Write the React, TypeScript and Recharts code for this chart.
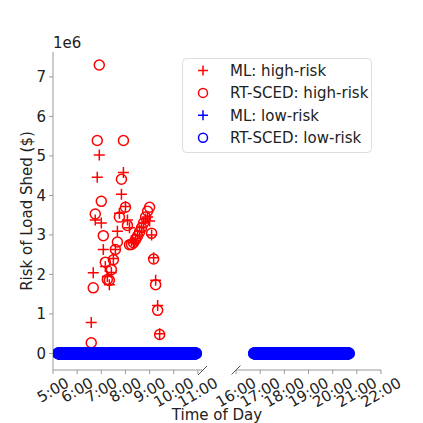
import React from 'react';
import { ScatterChart, Scatter, XAxis, YAxis } from 'recharts';

// ---------- data ----------
const morningTicks = [5, 6, 7, 8, 9, 10, 11];
const eveningTicks = [16, 17, 18, 19, 20, 21, 22];
const riskTicks = [0, 1e6, 2e6, 3e6, 4e6, 5e6, 6e6, 7e6];

const highRiskTimes = [
  '6:35', '6:40', '6:45', '6:50', '6:55', '7:00', '7:05', '7:10', '7:15', '7:20',
  '7:25', '7:30', '7:35', '7:40', '7:45', '7:50', '7:55', '8:00', '8:05', '8:10',
  '8:15', '8:20', '8:25', '8:30', '8:35', '8:40', '8:45', '8:50', '8:55', '9:00',
  '9:05', '9:10', '9:15', '9:20', '9:25',
];
// millions of $
const rtscedHighRisk = [
  0.27, 1.66, 3.53, 5.39, 7.30, 3.85, 2.98, 2.31, 1.87, 1.85,
  2.12, 2.37, 2.63, 2.82, 3.45, 4.41, 5.39, 3.70, 3.24, 2.75,
  2.76, 2.80, 2.88, 2.97, 3.07, 3.18, 3.30, 3.45, 3.60, 3.70,
  3.04, 2.39, 1.74, 1.09, 0.48,
];
const mlHighRisk = [
  0.78, 2.04, 3.38, 4.46, 5.02, 3.30, 2.63, 2.20, 1.95, 1.74,
  2.05, 2.40, 2.63, 3.09, 3.55, 4.03, 4.58, 3.72, 3.38, 3.18,
  2.85, 2.80, 2.90, 3.00, 3.10, 3.20, 3.30, 3.40, 3.45, 3.35,
  3.00, 2.42, 1.85, 1.21, 0.50,
];

// low-risk periods (many days overlaid, one point per minute), risk read as 0
const lowRiskMorning = { start: '5:13', end: '10:55' };
const lowRiskEvening = { start: '16:45', end: '20:40' };
const lowRiskValue = 0;

// ---------- helpers ----------
const toHours = (s: string) => {
  const [h, m] = s.split(':').map(Number);
  return h + m / 60;
};
const minutesBetween = (start: string, end: string) => {
  const out: number[] = [];
  const a = Math.round(toHours(start) * 60);
  const b = Math.round(toHours(end) * 60);
  for (let m = a; m <= b; m += 1) out.push(m / 60);
  return out;
};

const mlHighData = highRiskTimes.map((t, i) => ({ t: toHours(t), v: mlHighRisk[i] * 1e6 }));
const rtHighData = highRiskTimes.map((t, i) => ({ t: toHours(t), v: rtscedHighRisk[i] * 1e6 }));
const lowMorningData = minutesBetween(lowRiskMorning.start, lowRiskMorning.end).map((t) => ({ t, v: lowRiskValue }));
const lowEveningData = minutesBetween(lowRiskEvening.start, lowRiskEvening.end).map((t) => ({ t, v: lowRiskValue }));

const RED = '#ff0000';
const BLUE = '#0000ff';
const AXIS = '#999999';
const TEXT = '#222222';
const FONT = "'DejaVu Sans', sans-serif";
const Y_DOMAIN: [number, number] = [-0.42e6, 7.63e6];

const plusShape = (color: string) => (props: any) => {
  const { cx, cy } = props;
  if (cx == null || cy == null) return <g />;
  return (
    <path
      d={`M${cx - 5.5},${cy}H${cx + 5.5}M${cx},${cy - 5.5}V${cy + 5.5}`}
      stroke={color}
      strokeWidth={1.5}
      fill="none"
    />
  );
};
const ringShape = (color: string, r = 5) => (props: any) => {
  const { cx, cy } = props;
  if (cx == null || cy == null) return <g />;
  return <circle cx={cx} cy={cy} r={r} stroke={color} strokeWidth={1.5} fill="none" />;
};

const hourLabel = (h: number) => `${h}:00`;

const RotTick = (props: any) => {
  const { x, y, payload } = props;
  const label = hourLabel(payload.value);
  const digits = label.length - 1;
  const L = digits * 9.54 + 5.05;
  const cy = y + (L * 0.5 + 9.5) / 2;
  return (
    <text
      x={x}
      y={cy}
      textAnchor="middle"
      dominantBaseline="central"
      transform={`rotate(-30, ${x}, ${cy})`}
      fontSize={15}
      fill={TEXT}
    >
      {label}
    </text>
  );
};

const legendItems = [
  { label: 'ML: high-risk', color: RED, kind: 'plus' },
  { label: 'RT-SCED: high-risk', color: RED, kind: 'ring' },
  { label: 'ML: low-risk', color: BLUE, kind: 'plus' },
  { label: 'RT-SCED: low-risk', color: BLUE, kind: 'ring' },
];

export default function App() {
  return (
    <div
      style={{
        position: 'absolute',
        left: 0,
        top: 0,
        width: 423,
        height: 423,
        background: '#fff',
        fontFamily: FONT,
        overflow: 'hidden',
      }}
    >
      {/* left panel: morning */}
      <div style={{ position: 'absolute', left: 0, top: 0 }}>
        <ScatterChart width={423} height={423} margin={{ top: 52, right: 221, bottom: 13, left: 13 }}>
          <XAxis
            type="number"
            dataKey="t"
            domain={[5, 11.17]}
            ticks={morningTicks}
            interval={0}
            allowDataOverflow
            height={40}
            tickSize={4}
            tickMargin={3}
            axisLine={{ stroke: AXIS }}
            tickLine={{ stroke: AXIS }}
            tick={<RotTick />}
          />
          <YAxis
            type="number"
            dataKey="v"
            domain={Y_DOMAIN}
            ticks={riskTicks}
            interval={0}
            allowDataOverflow
            width={40}
            tickSize={4}
            tickMargin={3}
            axisLine={{ stroke: AXIS }}
            tickLine={{ stroke: AXIS }}
            tick={{ fontSize: 15, fill: TEXT }}
            tickFormatter={(v: number) => String(Math.round(v / 1e6))}
          />
          <Scatter data={mlHighData} shape={plusShape(RED)} isAnimationActive={false} />
          <Scatter data={rtHighData} shape={ringShape(RED)} isAnimationActive={false} />
          <Scatter data={lowMorningData} shape={plusShape(BLUE)} isAnimationActive={false} />
          <Scatter data={lowMorningData} shape={ringShape(BLUE, 5.5)} isAnimationActive={false} />
        </ScatterChart>
      </div>

      {/* right panel: evening */}
      <div style={{ position: 'absolute', left: 0, top: 0 }}>
        <ScatterChart width={423} height={423} margin={{ top: 52, right: 42, bottom: 13, left: 236 }}>
          <XAxis
            type="number"
            dataKey="t"
            domain={[16, 22]}
            ticks={eveningTicks}
            interval={0}
            allowDataOverflow
            height={40}
            tickSize={4}
            tickMargin={3}
            axisLine={{ stroke: AXIS }}
            tickLine={{ stroke: AXIS }}
            tick={<RotTick />}
          />
          <YAxis type="number" dataKey="v" domain={Y_DOMAIN} hide width={0} allowDataOverflow />
          <Scatter data={lowEveningData} shape={plusShape(BLUE)} isAnimationActive={false} />
          <Scatter data={lowEveningData} shape={ringShape(BLUE, 5.5)} isAnimationActive={false} />
        </ScatterChart>
      </div>

      {/* titles, break marks, legend */}
      <svg width={423} height={423} style={{ position: 'absolute', left: 0, top: 0, pointerEvents: 'none' }}>
        <line x1={198} y1={375} x2={207} y2={366} stroke="#555" strokeWidth={1} />
        <line x1={231.5} y1={374.5} x2={240.5} y2={365.5} stroke="#555" strokeWidth={1} />
        <text x={53} y={48} fontSize={15} fill={TEXT}>1e6</text>
        <text
          x={32}
          y={211}
          fontSize={15}
          fill={TEXT}
          textAnchor="middle"
          transform="rotate(-90, 32, 211)"
        >
          Risk of Load Shed ($)
        </text>
        <text x={217} y={420} fontSize={15} fill={TEXT} textAnchor="middle">
          Time of Day
        </text>
        <g transform="translate(182,58)">
          <rect x={0.5} y={0.5} width={189} height={94} rx={4} fill="rgba(255,255,255,0.85)" stroke="#dddddd" />
          {legendItems.map((it, i) => {
            const cy = 12.5 + i * 22.4;
            return (
              <g key={it.label}>
                {it.kind === 'plus' ? (
                  <path d={`M${21 - 5},${cy}H${21 + 5}M21,${cy - 5}V${cy + 5}`} stroke={it.color} strokeWidth={1.5} fill="none" />
                ) : (
                  <circle cx={21} cy={cy} r={4.5} stroke={it.color} strokeWidth={1.5} fill="none" />
                )}
                <text x={48} y={cy + 5.5} fontSize={15} fill={TEXT}>
                  {it.label}
                </text>
              </g>
            );
          })}
        </g>
      </svg>
    </div>
  );
}
